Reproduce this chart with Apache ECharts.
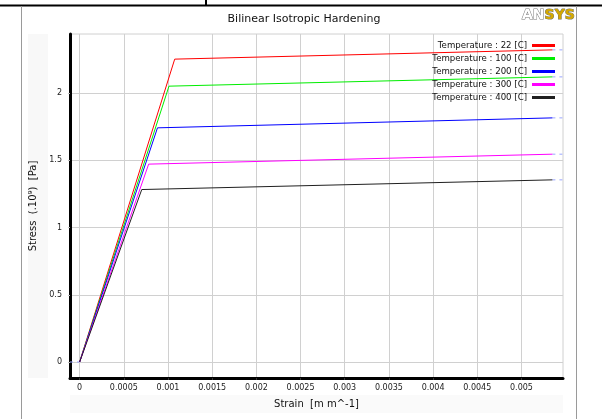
<!DOCTYPE html>
<html><head><meta charset="utf-8">
<script src="https://cdn.jsdelivr.net/npm/echarts@6/dist/echarts.min.js"></script>
<style>html,body{margin:0;padding:0;background:#fff}#c{width:602px;height:419px}</style>
</head><body><div id="c"></div>
<script>
// Data: strain [m m^-1], stress [x10^9 Pa]
const seriesNames = ['Temperature : 22 [C]','Temperature : 100 [C]','Temperature : 200 [C]','Temperature : 300 [C]','Temperature : 400 [C]'];
const strain0 = 0;
const strainEnd = 0.00535;
const yieldStrain = [0.001076, 0.001011, 0.000881, 0.000781, 0.000703];
const yieldStress = [2.253, 2.052, 1.742, 1.472, 1.283];
const endStress = [2.322, 2.121, 1.816, 1.546, 1.355];
const colors = ['#ff0000','#00ee00','#0000ff','#ff00ff','#202020'];
const xTicks = [0,0.0005,0.001,0.0015,0.002,0.0025,0.003,0.0035,0.004,0.0045,0.005];
const yTicks = [0,0.5,1,1.5,2];
const xMin = -0.000109, xMax = 0.00547;
const yMin = -0.119, yMax = 2.44;

const font = 'DejaVu Sans';
const series = seriesNames.map((n,i)=>({
  name:n, type:'line', symbol:'none', silent:true,
  lineStyle:{width:1,color:colors[i]}, itemStyle:{color:colors[i]},
  data:[[strain0,0],[yieldStrain[i],yieldStress[i]],[strainEnd,endStress[i]]],
  z:3
}));
// light dashed continuations
const dashData = [[xMin,0],[strain0,0]];
endStress.forEach(v=>{dashData.push('-');dashData.push([strainEnd,v]);dashData.push([xMax,v]);});
series.push({type:'line',symbol:'none',silent:true,connectNulls:false,
  lineStyle:{width:1,color:'#9aa6ff',type:[3,4]},data:dashData,z:2});

const chart = echarts.init(document.getElementById('c'),null,{renderer:'canvas'});
chart.setOption({
  animation:false,
  backgroundColor:'#fff',
  title:{text:'Bilinear Isotropic Hardening',left:299,top:9,textAlign:'center',
    textStyle:{fontFamily:font,fontSize:11,fontWeight:'normal',color:'#111'}},
  legend:{orient:'vertical',right:47,top:41,align:'right',itemWidth:23,itemHeight:3,itemGap:4,padding:0,
    icon:'rect',selectedMode:false,data:seriesNames,
    textStyle:{fontFamily:font,fontSize:8.6,color:'#111',lineHeight:9,padding:[0,0,0,0]}},
  grid:{left:70,right:39,top:34,bottom:41,show:true,borderColor:'#d0d0d0',borderWidth:1},
  xAxis:{type:'value',min:xMin,max:xMax,
    name:'Strain  [m m^-1]',nameLocation:'middle',nameGap:21,
    nameTextStyle:{fontFamily:font,fontSize:10,color:'#111'},
    axisLine:{show:true,onZero:false,lineStyle:{color:'#000',width:3}},
    axisTick:{show:true,length:2,customValues:xTicks,lineStyle:{color:'#333'}},
    axisLabel:{customValues:xTicks,fontFamily:font,fontSize:8,color:'#222',margin:6,
      formatter:v=>String(+v.toFixed(5))},
    splitLine:{show:true,lineStyle:{color:'#d0d0d0',width:1}}},
  yAxis:{type:'value',min:yMin,max:yMax,
    name:'Stress  (.10\u2079)  [Pa]',nameLocation:'middle',nameGap:24,
    nameTextStyle:{fontFamily:font,fontSize:10,color:'#111'},
    axisLine:{show:true,onZero:false,lineStyle:{color:'#000',width:3}},
    axisTick:{show:true,length:2,customValues:yTicks,lineStyle:{color:'#bbb'}},
    axisLabel:{customValues:yTicks,fontFamily:font,fontSize:8,color:'#222',margin:8,
      formatter:v=>String(+v.toFixed(2))},
    splitLine:{show:true,lineStyle:{color:'#d0d0d0',width:1}}},
  graphic:[
    {type:'rect',shape:{x:28,y:34,width:20,height:344},style:{fill:'#f8f8f8'},z:-10},
    {type:'rect',shape:{x:70,y:395,width:493,height:18},style:{fill:'#fafafa'},z:-10},
    {type:'line',shape:{x1:0,y1:5.5,x2:602,y2:5.5},style:{stroke:'#000',lineWidth:2}},
    {type:'line',shape:{x1:206,y1:0,x2:206,y2:6},style:{stroke:'#000',lineWidth:2}},
    {type:'line',shape:{x1:21.5,y1:6,x2:21.5,y2:419},style:{stroke:'#9a9a9a',lineWidth:1}},
    {type:'line',shape:{x1:576.5,y1:6,x2:576.5,y2:419},style:{stroke:'#9a9a9a',lineWidth:1}},
    {type:'text',x:522,y:8,style:{text:'{a|AN}{b|SYS}',
      rich:{a:{fontFamily:font,fontSize:14,fontWeight:'bold',fill:'#fff',stroke:'#777',lineWidth:1},
            b:{fontFamily:font,fontSize:14,fontWeight:'bold',fill:'#d4a800',stroke:'#776',lineWidth:1}}}}
  ],
  series:series
});
</script></body></html>
